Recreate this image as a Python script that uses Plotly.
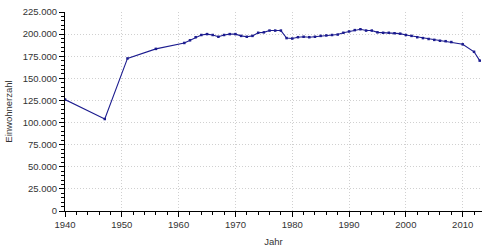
import plotly.graph_objects as go

years = [1940, 1947, 1951, 1956, 1961, 1962, 1963, 1964, 1965, 1966, 1967, 1968, 1969, 1970,
         1971, 1972, 1973, 1974, 1975, 1976, 1977, 1978, 1979, 1980, 1981, 1982, 1983, 1984,
         1985, 1986, 1987, 1988, 1989, 1990, 1991, 1992, 1993, 1994, 1995, 1996, 1997, 1998,
         1999, 2000, 2001, 2002, 2003, 2004, 2005, 2006, 2007, 2008, 2010, 2012, 2013]
population = [126000, 104000, 172500, 183300, 190000, 193000, 196500, 199000, 200000, 199000,
              197000, 199000, 200000, 200000, 198000, 197000, 198000, 201500, 202000, 204000,
              204000, 204000, 195500, 195000, 196500, 197000, 196500, 197000, 198000, 198500,
              199000, 199500, 201500, 203000, 204500, 205500, 204000, 204000, 202000, 201500,
              201500, 201000, 200500, 199000, 198000, 196500, 195500, 194500, 193500, 192500,
              192000, 191000, 188500, 180000, 170000]

x_title = "Jahr"
y_title = "Einwohnerzahl"

fig = go.Figure(go.Scatter(
    x=years, y=population, mode="lines+markers",
    line=dict(color="#1c1c8f", width=1.1),
    marker=dict(color="#1c1c8f", size=2.5, symbol="square"),
    hoverinfo="skip"))

font = "Liberation Sans, Arial, sans-serif"
fig.update_layout(
    width=500, height=250,
    margin=dict(l=65, r=18, t=12, b=39),
    paper_bgcolor="white", plot_bgcolor="white",
    separators=",.",
    showlegend=False,
    font=dict(family=font, size=9.5, color="#333"),
    xaxis=dict(
        range=[1940, 2013.4], dtick=10, tick0=1940, tickformat="d",
        automargin=False,
        showline=True, linecolor="black", linewidth=1,
        ticks="outside", ticklen=5, tickcolor="black",
        showgrid=True, gridcolor="#d0d0d0", griddash="1px,2px", gridwidth=1,
        zeroline=False,
        minor=dict(dtick=2, tick0=1940, ticks="outside", ticklen=3, tickcolor="black", showgrid=False),
        title=dict(text=x_title, font=dict(size=9.5, color="#333"), standoff=8),
        tickfont=dict(size=9.5, color="#333"),
    ),
    yaxis=dict(
        range=[0, 225000], dtick=25000, tickformat=",d",
        automargin=False,
        showline=True, linecolor="black", linewidth=1,
        ticks="outside", ticklen=5, tickcolor="black",
        showgrid=True, gridcolor="#d0d0d0", griddash="1px,2px", gridwidth=1,
        zeroline=False,
        minor=dict(dtick=5000, ticks="outside", ticklen=3, tickcolor="black", showgrid=False),
        title=dict(text=y_title, font=dict(size=9.5, color="#333"), standoff=8),
        tickfont=dict(size=9.5, color="#333"),
    ),
)

fig.write_html("out.html")
